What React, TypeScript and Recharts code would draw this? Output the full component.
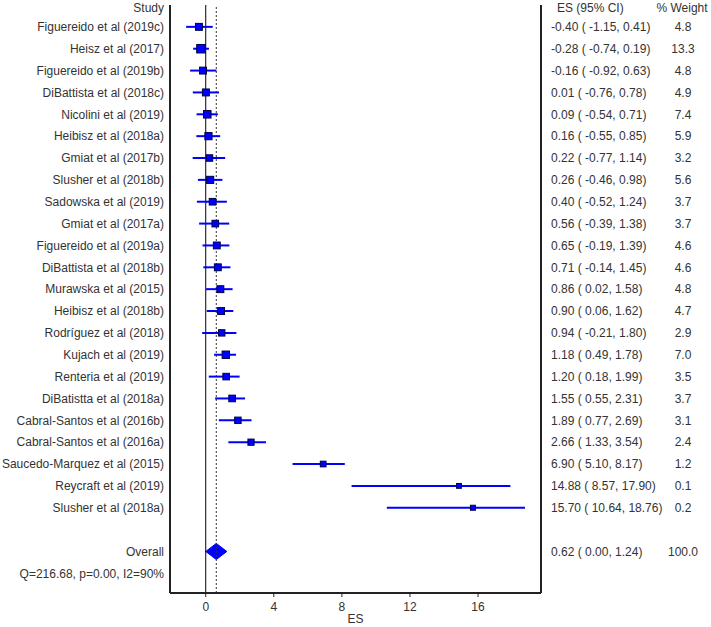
import React from 'react';
import {
  ScatterChart, Scatter, XAxis, YAxis, ErrorBar, ReferenceLine, ReferenceArea,
} from 'recharts';

const studies = [
  'Figuereido et al (2019c)', 'Heisz et al (2017)', 'Figuereido et al (2019b)', 'DiBattista et al (2018c)',
  'Nicolini et al (2019)', 'Heibisz et al (2018a)', 'Gmiat et al (2017b)', 'Slusher et al (2018b)',
  'Sadowska et al (2019)', 'Gmiat et al (2017a)', 'Figuereido et al (2019a)', 'DiBattista et al (2018b)',
  'Murawska et al (2015)', 'Heibisz et al (2018b)', 'Rodríguez et al (2018)', 'Kujach et al (2019)',
  'Renteria et al (2019)', 'DiBatistta et al (2018a)', 'Cabral-Santos et al (2016b)', 'Cabral-Santos et al (2016a)',
  'Saucedo-Marquez et al (2015)', 'Reycraft et al (2019)', 'Slusher et al (2018a)',
];
const esValues = [-0.40, -0.28, -0.16, 0.01, 0.09, 0.16, 0.22, 0.26, 0.40, 0.56, 0.65, 0.71, 0.86, 0.90, 0.94, 1.18, 1.20, 1.55, 1.89, 2.66, 6.90, 14.88, 15.70];
const ciLow = [-1.15, -0.74, -0.92, -0.76, -0.54, -0.55, -0.77, -0.46, -0.52, -0.39, -0.19, -0.14, 0.02, 0.06, -0.21, 0.49, 0.18, 0.55, 0.77, 1.33, 5.10, 8.57, 10.64];
const ciHigh = [0.41, 0.19, 0.63, 0.78, 0.71, 0.85, 1.14, 0.98, 1.24, 1.38, 1.39, 1.45, 1.58, 1.62, 1.80, 1.78, 1.99, 2.31, 2.69, 3.54, 8.17, 17.90, 18.76];
const weights = [4.8, 13.3, 4.8, 4.9, 7.4, 5.9, 3.2, 5.6, 3.7, 3.7, 4.6, 4.6, 4.8, 4.7, 2.9, 7.0, 3.5, 3.7, 3.1, 2.4, 1.2, 0.1, 0.2];
const overall = { es: 0.62, lo: 0.00, hi: 1.24, w: 100.0 };
const heterogeneity = 'Q=216.68, p=0.00, I2=90%';
const xTicks = [0, 4, 8, 12, 16];

const OVERALL_ROW = studies.length + 2;
const Q_ROW = studies.length + 3;

const data = studies.map((name, i) => ({
  row: i + 1,
  name,
  es: esValues[i],
  lo: ciLow[i],
  hi: ciHigh[i],
  w: weights[i],
  err: [esValues[i] - ciLow[i], ciHigh[i] - esValues[i]],
}));

const fmt = (v: number) => v.toFixed(2);
const ciText = (es: number, lo: number, hi: number) => `${fmt(es)} ( ${fmt(lo)}, ${fmt(hi)})`;

const yTicks = Array.from({ length: Q_ROW + 1 }, (_, i) => i);
const TEXT = '#333';
const FONT = 'Liberation Sans, Arial, sans-serif';
const HEADER_DY = '0.62em';

const LeftTick = (props: any) => {
  const { x, y, payload } = props;
  const v = payload.value;
  let label = '';
  if (v === 0) label = 'Study';
  else if (v >= 1 && v <= studies.length) label = studies[v - 1];
  else if (v === OVERALL_ROW) label = 'Overall';
  else if (v === Q_ROW) label = heterogeneity;
  if (!label) return null;
  return (
    <text x={x} y={y} dy={v === 0 ? HEADER_DY : '0.36em'} textAnchor="end" fill={TEXT} fontSize={12} fontFamily={FONT}>
      {label}
    </text>
  );
};

const RightTick = (props: any) => {
  const { x, y, payload } = props;
  const v = payload.value;
  let ci = '';
  let w = '';
  if (v === 0) {
    return (
      <g>
        <text x={x + 6} y={y} dy={HEADER_DY} textAnchor="start" fill={TEXT} fontSize={12} fontFamily={FONT}>ES (95% CI)</text>
        <text x={x + 131} y={y} dy={HEADER_DY} textAnchor="middle" fill={TEXT} fontSize={12} fontFamily={FONT}>% Weight</text>
      </g>
    );
  } else if (v >= 1 && v <= studies.length) {
    ci = ciText(esValues[v - 1], ciLow[v - 1], ciHigh[v - 1]);
    w = weights[v - 1].toFixed(1);
  } else if (v === OVERALL_ROW) {
    ci = ciText(overall.es, overall.lo, overall.hi);
    w = overall.w.toFixed(1);
  } else return null;
  return (
    <g>
      <text x={x} y={y} dy="0.36em" textAnchor="start" fill={TEXT} fontSize={12} fontFamily={FONT}>{ci}</text>
      <text x={x + 132} y={y} dy="0.36em" textAnchor="middle" fill={TEXT} fontSize={12} fontFamily={FONT}>{w}</text>
    </g>
  );
};

const SquareShape = (props: any) => {
  const { cx, cy, payload } = props;
  if (cx == null || cy == null) return null;
  const s = 4.5 + 1.1 * Math.sqrt(payload.w);
  return <rect x={cx - s / 2} y={cy - s / 2} width={s} height={s} fill="#0000ff" stroke="#000044" strokeWidth={1} />;
};

const DiamondShape = (props: any) => {
  const { x, y, width, height } = props;
  const pts = [
    [x, y + height / 2],
    [x + width / 2, y],
    [x + width, y + height / 2],
    [x + width / 2, y + height],
  ].map((p) => p.join(',')).join(' ');
  return <polygon points={pts} fill="#0000ff" stroke="#0000ff" strokeWidth={1} />;
};

export default function App() {
  return (
    <div style={{ position: 'absolute', left: 0, top: 0, width: 711, height: 627, background: '#fff' }}>
      <ScatterChart width={711} height={627} margin={{ top: 5, right: 0, bottom: 0, left: 0 }} style={{ fontFamily: FONT }}>
        <XAxis
          type="number"
          dataKey="es"
          domain={[-2.1, 19.7]}
          ticks={xTicks}
          allowDataOverflow
          height={34}
          axisLine={{ stroke: '#222', strokeWidth: 2 }}
          tickLine={{ stroke: '#222' }}
          tickSize={4}
          tickMargin={5}
          tick={{ fill: TEXT, fontSize: 12 }}
          label={{ value: 'ES', position: 'insideBottom', offset: 4, fill: TEXT, fontSize: 12 }}
        />
        <YAxis
          yAxisId="left"
          type="number"
          dataKey="row"
          domain={[0, 26.9]}
          reversed
          allowDataOverflow
          ticks={yTicks}
          interval={0}
          width={170}
          tickSize={0}
          tickMargin={6}
          tickLine={false}
          axisLine={{ stroke: '#222', strokeWidth: 2 }}
          tick={<LeftTick />}
        />
        <YAxis
          yAxisId="right"
          orientation="right"
          type="number"
          domain={[0, 26.9]}
          reversed
          allowDataOverflow
          ticks={yTicks}
          interval={0}
          width={170}
          tickSize={0}
          tickMargin={10}
          tickLine={false}
          axisLine={{ stroke: '#222', strokeWidth: 2 }}
          tick={<RightTick />}
        />
        <ReferenceLine yAxisId="left" x={0} stroke="#000" strokeWidth={1} />
        <ReferenceLine yAxisId="left" x={overall.es} stroke="#333" strokeWidth={1} strokeDasharray="2 2" />
        <Scatter yAxisId="left" data={data} dataKey="es" shape={<SquareShape />} isAnimationActive={false}>
          <ErrorBar dataKey="err" direction="x" width={0} stroke="#0000ff" strokeWidth={2} />
        </Scatter>
        <ReferenceArea
          yAxisId="left"
          x1={overall.lo}
          x2={overall.hi}
          y1={OVERALL_ROW - 0.37}
          y2={OVERALL_ROW + 0.37}
          shape={<DiamondShape />}
        />
      </ScatterChart>
    </div>
  );
}
